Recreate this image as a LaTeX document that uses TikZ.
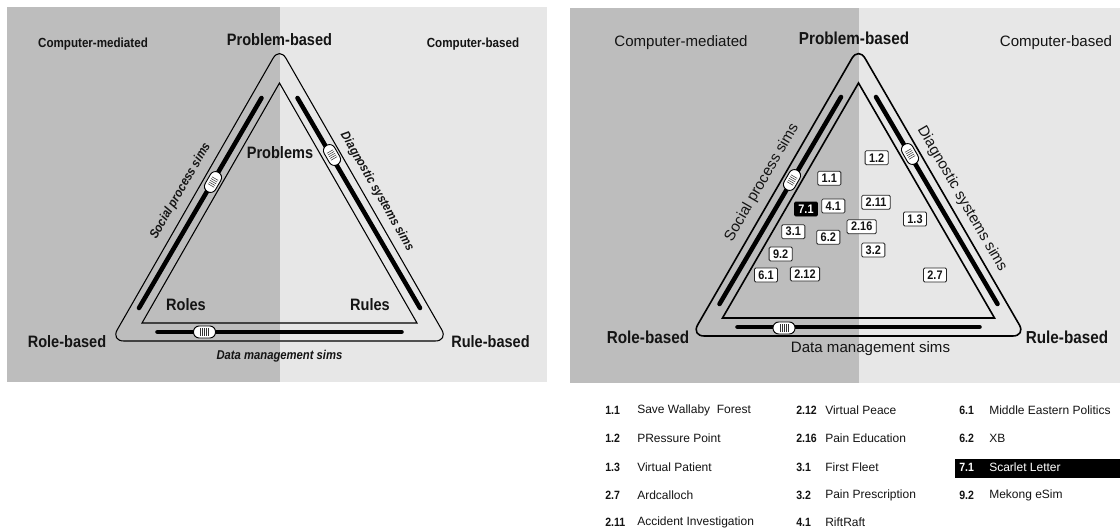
\documentclass[tikz,border=0pt]{standalone}
\usepackage{fontspec}
\setmainfont{Liberation Sans}
\newfontfamily\cond[FakeStretch=0.88]{Liberation Sans}
\usetikzlibrary{calc}
\definecolor{dk}{gray}{0.74}
\definecolor{lt}{gray}{0.905}
\definecolor{ink}{gray}{0.08}
\tikzset{
  bigL/.style={font=\cond\bfseries\fontsize{12.4}{14}\selectfont, inner sep=0, text=ink},
  cornerL/.style={font=\cond\bfseries\fontsize{9.9}{12}\selectfont, inner sep=0, text=ink},
  simL/.style={font=\cond\bfseries\itshape\fontsize{9.6}{12}\selectfont, inner sep=0, text=ink},
  bigR/.style={font=\cond\bfseries\fontsize{13}{15}\selectfont, inner sep=0, text=ink},
  regR/.style={font=\fontsize{11.3}{13}\selectfont, inner sep=0, text=ink},
  numbox/.style={draw=black!85, fill=white, line width=0.6pt, rounded corners=1pt,
    font=\cond\bfseries\fontsize{9.3}{10}\selectfont, inner xsep=3pt, inner ysep=0pt,
    minimum height=10.5pt, text=ink},
  numboxdark/.style={numbox, fill=black, draw=black, text=white},
  listnum/.style={font=\cond\bfseries\fontsize{9}{11}\selectfont, inner sep=0, anchor=west, text=ink},
  listname/.style={font=\fontsize{9}{11}\selectfont, inner sep=0, anchor=west, text=ink},
  barline/.style={line width=3.4pt, line cap=round, black},
  knob/.pic={
    \draw[fill=white, line width=0.7pt, rounded corners=4.3pt] (-11,-6) rectangle (11,6);
    \foreach \i in {-4,-2,0,2,4} \draw[line width=0.4pt, black!80] (\i,-3.6) -- (\i,3.6);
  }
}
\begin{document}
\begin{tikzpicture}[x=0.75pt,y=-0.75pt]
\useasboundingbox (0,0) rectangle (1120,529);
\fill[white] (0,0) rectangle (1120,529);
% ---------------- left panel ----------------
\fill[dk] (7,7) rectangle (279.5,382);
\fill[lt] (279.5,7) rectangle (547,382);
\coordinate (LA) at (279.5,83);
\coordinate (LB) at (142,323);
\coordinate (LC) at (417,323);
\coordinate (LOA) at (279.5,47);
\coordinate (LOB) at (110.8,341);
\coordinate (LOC) at (448.2,341);
\coordinate (LOM) at (279.5,341);
\draw[line width=0.8pt] (LA) -- (LB) -- (LC) -- cycle;
\draw[line width=0.8pt, rounded corners=9.75pt] (LOM) -- (LOC) -- (LOA) -- (LOB) -- cycle;
\coordinate (LL1) at (139,308); \coordinate (LL2) at (261.5,98);
\coordinate (LR1) at (420,308); \coordinate (LR2) at (297.5,98);
\coordinate (LD1) at (157.5,332); \coordinate (LD2) at (401.5,332);
\draw[barline] (LL1) -- (LL2);
\draw[barline] (LR1) -- (LR2);
\draw[barline] (LD1) -- (LD2);
\pic[rotate=60] at (213,182) {knob};
\pic[rotate=-60] at (332,155) {knob};
\pic at (204.5,332) {knob};
\node[bigL] (lprob) at (279.5,39.5) {Problem-based};
\node[cornerL] (lcm) at (93,44.5) {Computer-mediated};
\node[cornerL] (lcb) at (473,44.5) {Computer-based};
\node[bigL] (lrole) at (67,342) {Role-based};
\node[bigL] (lrule) at (490.5,342) {Rule-based};
\node[bigL] (lproblems) at (280,153) {Problems};
\node[bigL] (lroles) at (186,305) {Roles};
\node[bigL] (lrules) at (370,305) {Rules};
\node[simL] (ldata) at (279.5,356) {Data management sims};
\node[simL, rotate=60] (lsoc) at (180.5,191) {Social process sims};
\node[simL, rotate=-60] (ldiag) at (377,191.5) {Diagnostic systems sims};
% ---------------- right panel ----------------
\fill[dk] (570,8) rectangle (858.5,383);
\fill[lt] (858.5,8) rectangle (1120,383);
\coordinate (RA) at (858.5,83);
\coordinate (RB) at (722.5,318);
\coordinate (RC) at (994.5,318);
\coordinate (ROA) at (858.5,47);
\coordinate (ROB) at (691.2,336);
\coordinate (ROC) at (1025.8,336);
\coordinate (ROM) at (858.5,336);
\draw[line width=1.2pt] (RA) -- (RB) -- (RC) -- cycle;
\draw[line width=1.2pt, rounded corners=9.75pt] (ROM) -- (ROC) -- (ROA) -- (ROB) -- cycle;
\coordinate (RL1) at (719.5,304); \coordinate (RL2) at (841,97);
\coordinate (RR1) at (997.5,304); \coordinate (RR2) at (876,97);
\coordinate (RD1) at (737.5,327); \coordinate (RD2) at (979.5,327);
\draw[barline] (RL1) -- (RL2);
\draw[barline] (RR1) -- (RR2);
\draw[barline] (RD1) -- (RD2);
\pic[rotate=60] at (792,180) {knob};
\pic[rotate=-60] at (910,154) {knob};
\pic at (784,328) {knob};
\node[bigR] (rprob) at (854,38) {Problem-based};
\node[regR] (rcm) at (681,43) {Computer-mediated};
\node[regR] (rcb) at (1056,43) {Computer-based};
\node[bigR] (rrole) at (648,337) {Role-based};
\node[bigR] (rrule) at (1067,337) {Rule-based};
\node[regR] (rdata) at (870.5,349) {Data management sims};
\node[regR, rotate=60] (rsoc) at (762,182.5) {Social process sims};
\node[regR, rotate=-60] (rdiag) at (962,199) {Diagnostic systems sims};
% number boxes
\node[numbox] (b12) at (876.7,157.7) {1.2};
\node[numbox] (b11) at (829.3,178.3) {1.1};
\node[numboxdark] (b71) at (806,209) {7.1};
\node[numbox] (b41) at (833.3,206) {4.1};
\node[numbox] (b211) at (876,202.3) {2.11};
\node[numbox] (b13) at (915,219) {1.3};
\node[numbox] (b31) at (793.3,231.7) {3.1};
\node[numbox] (b62) at (828.3,237.3) {6.2};
\node[numbox] (b216) at (861.7,226.7) {2.16};
\node[numbox] (b32) at (873.3,250) {3.2};
\node[numbox] (b92) at (780.7,254) {9.2};
\node[numbox] (b61) at (766,275) {6.1};
\node[numbox] (b212) at (805,274) {2.12};
\node[numbox] (b27) at (935,275) {2.7};
% ---------------- legend ----------------
\fill[black] (955,458.5) rectangle (1120,478);
\node[listnum] (n11) at (605,410) {1.1};   \node[listname] (t11) at (637,410) {Save Wallaby\ \ Forest};
\node[listnum] (n12) at (605,438) {1.2};   \node[listname] (t12) at (637,438) {PRessure Point};
\node[listnum] (n13) at (605,467) {1.3};   \node[listname] (t13) at (637,467) {Virtual Patient};
\node[listnum] (n27) at (605,495) {2.7};   \node[listname] (t27) at (637,495) {Ardcalloch};
\node[listnum] (n211) at (605,522) {2.11}; \node[listname] (t211) at (637,522) {Accident Investigation};
\node[listnum] (n212) at (796,410) {2.12}; \node[listname] (t212) at (825,410) {Virtual Peace};
\node[listnum] (n216) at (796,438) {2.16}; \node[listname] (t216) at (825,438) {Pain Education};
\node[listnum] (n31) at (796,467) {3.1};   \node[listname] (t31) at (825,467) {First Fleet};
\node[listnum] (n32) at (796,495) {3.2};   \node[listname] (t32) at (825,495) {Pain Prescription};
\node[listnum] (n41) at (796,522) {4.1};   \node[listname] (t41) at (825,522) {RiftRaft};
\node[listnum] (n61) at (959,410) {6.1};   \node[listname] (t61) at (989,410) {Middle Eastern Politics};
\node[listnum] (n62) at (959,438) {6.2};   \node[listname] (t62) at (989,438) {XB};
\node[listnum, text=white] (n71) at (959,467) {7.1}; \node[listname, text=white] (t71) at (989,467) {Scarlet Letter};
\node[listnum] (n92) at (959,495) {9.2};   \node[listname] (t92) at (989,495) {Mekong eSim};
\end{tikzpicture}
\end{document}
